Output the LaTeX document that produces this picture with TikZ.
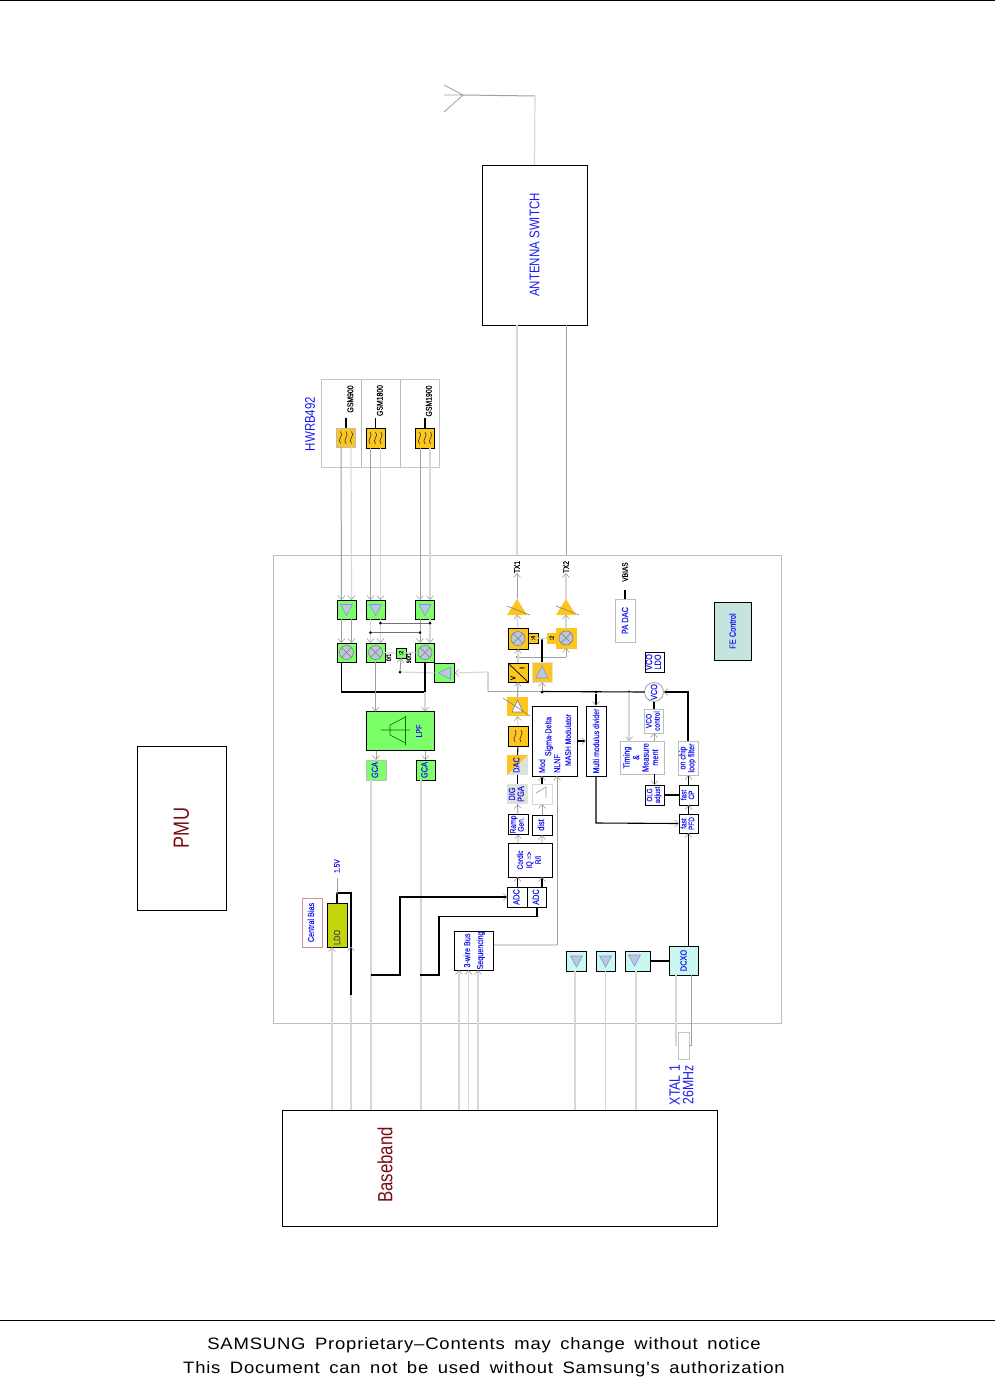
\documentclass[tikz,border=0pt]{standalone}
\usepackage{xcolor}
\usepackage{fontspec}
\setmainfont[FakeStretch=0.82,FakeBold=0.3]{Liberation Sans}
\newfontfamily\bigfont[FakeStretch=0.82]{Liberation Sans}
\newfontfamily\footfont[FakeStretch=1.12,LetterSpace=4.85,WordSpace=1.6]{Liberation Sans}
\usetikzlibrary{arrows.meta}
\definecolor{txtblue}{HTML}{1A1AF0}
\definecolor{darkred}{HTML}{7A0A14}
\definecolor{ambfill}{HTML}{FDC61E}
\definecolor{grnfill}{HTML}{7DFF6A}
\definecolor{cynfill}{HTML}{C9F8F0}
\definecolor{fefill}{HTML}{C5E4E0}
\definecolor{ldofill}{HTML}{C3D60A}
\definecolor{trifill}{HTML}{BCC8D6}
\definecolor{triline}{HTML}{8A90EE}
\definecolor{palefill}{HTML}{DDE3DA}
\definecolor{wirelight}{HTML}{D8D8D8}
\definecolor{wiremid}{HTML}{A0A0A0}
\newcommand{\rtxt}[1]{\rotatebox{90}{\begin{tabular}{@{}c@{}}#1\end{tabular}}}
\tikzset{
box/.style={draw=black,line width=1pt,inner sep=0pt,outer sep=0pt,text=txtblue,font=\fontsize{9}{8}\selectfont},
wh/.style 2 args={minimum width=#1pt,minimum height=#2pt},
pale/.style={box,draw=wiremid!70},
blk/.style={draw=black,line width=1.1pt},
lite/.style={draw=wirelight,line width=1.2pt},
mid/.style={draw=wiremid,line width=1pt},
barb/.style={-{Straight Barb[length=4pt,width=7pt,color=wiremid,line width=.6pt]}},
dot/.style={circle,fill=black,inner sep=0pt,outer sep=0pt,minimum size=3pt},
lbl/.style={inner sep=0pt,outer sep=0pt,text=black,font=\fontsize{8.4}{8}\selectfont},
big/.style={inner sep=0pt,text=txtblue,font=\bigfont\fontsize{14}{14}\selectfont},
tridown/.pic={\draw[fill=trifill,draw=triline,line width=.6pt](-6,-5)--(6,-5)--(0,6)--cycle;},
triup/.pic={\draw[fill=trifill,draw=triline,line width=.6pt](-6,6)--(6,6)--(0,-6)--cycle;},
trileft/.pic={\draw[fill=trifill,draw=triline,line width=.6pt](6,-6)--(6,6)--(-6,0)--cycle;},
mixer/.pic={\draw[fill=trifill,draw=gray,line width=.6pt](0,0)circle(7);
\draw[gray,line width=.5pt](-5,-5)--(5,5)(-5,5)--(5,-5);},
amp/.pic={\fill[ambfill](0,-8)--(10,8)--(-10,8)--cycle;
\draw[gray,line width=.6pt](-10,-1)--(13,8);},
wiggles/.pic={\foreach \k in {-5.5,0,5.5}{\draw[black!80,line width=.6pt](\k,-6)..controls(\k+4,-2)and(\k-4,2)..(\k,6);}},
wigglet/.pic={\foreach \k in {-3,3}{\draw[black!80,line width=.6pt](\k,-6)..controls(\k+4,-2)and(\k-4,2)..(\k,6);}},
}
\begin{document}
\begin{tikzpicture}[x=1pt,y=-1pt,line cap=butt]
\useasboundingbox(0,0)rectangle(995,1378);
% page rules and footer
\coordinate(rulea)at(0,0.5);\coordinate(ruleb)at(995,0.5);
\coordinate(rulec)at(0,1320);\coordinate(ruled)at(995,1320);
\draw[line width=1pt](rulea)--(ruleb);
\draw[line width=1pt](rulec)--(ruled);
\node[inner sep=0pt,font=\footfont\fontsize{16.5}{16}\selectfont](foota)at(484,1345){SAMSUNG Proprietary–Contents may change without notice};
\node[inner sep=0pt,font=\footfont\fontsize{16.5}{16}\selectfont](footb)at(484,1369){This Document can not be used without Samsung's authorization};
% outer blocks
\node[draw=wiremid!70,line width=1pt,wh={508}{468},inner sep=0pt](chip)at(527,789){};
\node[box,wh={105}{160}](antsw)at(534.5,245){\rotatebox{90}{\bigfont\fontsize{14}{14}\selectfont ANTENNA SWITCH}};
\node[box,wh={89}{164},text=darkred](pmu)at(181.5,828){\rotatebox{90}{\bigfont\fontsize{22}{18}\selectfont PMU}};
\node[box,wh={435}{116}](bb)at(499.5,1168){};
\node[inner sep=0pt,text=darkred,font=\bigfont\fontsize{20.5}{18}\selectfont](bbtxt)at(385,1165){\rotatebox{90}{Baseband}};
% antenna
\coordinate(antc)at(463,95);\coordinate(antd)at(444,85);\coordinate(ante)at(444,112);\coordinate(antf)at(444,95);
\coordinate(antg)at(535,96);
\draw[mid,line width=.8pt](antd)--(antc)--(ante)(antf)--(antc);
\draw[mid](antc)--(antg);
\draw[lite](antg)--(antsw.north);
% filter bank
\node[draw=wiremid!60,line width=1pt,wh={118}{88},inner sep=0pt](bank)at(380,423){};
\draw[wiremid!70,line width=.8pt](361,379)--(361,467)(400,379)--(400,467);
\node[big](hwrb)at(310,424){\rotatebox{90}{HWRB492}};
\node[pale,wh={19}{19},fill=ambfill](saa)at(346,437.5){};
\node[box,wh={19}{20},fill=ambfill](sab)at(375.5,438){};
\node[box,wh={19}{20},fill=ambfill](sac)at(425,438){};
\pic at(saa){wiggles};\pic at(sab){wiggles};\pic at(sac){wiggles};
\node[lbl](gsma)at(351.5,399){\rtxt{GSM900}};
\node[lbl](gsmb)at(381,400.5){\rtxt{GSM1800}};
\node[lbl](gsmc)at(430,401){\rtxt{GSM1900}};
\draw[blk](saa.north)--++(0,-10);
\draw[blk](sab.north)--++(0,-10);
\draw[blk](sac.north)--++(0,-10);
% rx chain
\node[box,wh={19}{19},fill=grnfill](lnaa)at(346.5,609.5){};
\node[box,wh={19}{19},fill=grnfill](lnab)at(375.5,609.5){};
\node[box,wh={19}{19},fill=grnfill](lnac)at(425,609.5){};
\pic at(lnaa){tridown};\pic at(lnab){tridown};\pic at(lnac){tridown};
\node[box,wh={19}{19},fill=grnfill](mixa)at(346.5,652.5){};
\node[box,wh={19}{19},fill=grnfill](mixb)at(375.5,652.5){};
\node[box,wh={19}{19},fill=grnfill](mixc)at(425,652.5){};
\pic at(mixa){mixer};\pic at(mixb){mixer};\pic at(mixc){mixer};
\foreach \s/\l in {saa/lnaa,sab/lnab,sac/lnac}{
\draw[mid,barb]([xshift=-5pt]\s.south)--([xshift=-5pt]\l.north);
\draw[lite,barb]([xshift=5pt]\s.south)--([xshift=5pt]\l.north);
}
\draw[mid,barb]([xshift=-5pt]lnaa.south)--([xshift=-5pt]mixa.north);
\draw[mid,barb]([xshift=5pt]lnaa.south)--([xshift=5pt]mixa.north);
\draw[lite,barb]([xshift=-5pt]lnab.south)--([xshift=-5pt]mixb.north);
\draw[lite,barb]([xshift=5pt]lnab.south)--([xshift=5pt]mixb.north);
\draw[mid,barb]([xshift=-5pt]lnac.south)--([xshift=-5pt]mixc.north);
\draw[lite,barb]([xshift=5pt]lnac.south)--([xshift=5pt]mixc.north);
\node[dot](xa)at(380.5,623){};\node[dot](xb)at(430,623){};
\node[dot](xc)at(370.5,632.5){};\node[dot](xd)at(420,632.5){};
\draw[wiremid!70!black,line width=.8pt](xa)--(xb);
\draw[wiremid!70!black,line width=.8pt](xc)--(xd);
\node[box,wh={10}{10},fill=grnfill,font=\fontsize{6}{6}\selectfont,text=black](divtwo)at(401,653){\rotatebox{90}{:2}};
\node[lbl,font=\fontsize{6.5}{6}\selectfont](lbzero)at(389.5,657.5){\rtxt{0/1}};
\node[lbl,font=\fontsize{6.5}{6}\selectfont](lbninety)at(409.5,658){\rtxt{90/1}};
\node[box,wh={20}{19},fill=grnfill](lobuf)at(444.5,673){};
\pic at(lobuf){trileft};
\node[dot](lodot)at(400,672){};
\draw[lite](lobuf.west)--(lodot);
\draw[mid,barb](lodot)--(divtwo.south);
\draw[lite](divtwo.west)--(mixb.east);
\draw[lite](divtwo.east)--(mixc.west);
\coordinate(loa)at(488,672);\coordinate(lob)at(488,691.5);\coordinate(loc)at(542,691.5);
\draw[lite,barb](loa)--(lobuf.east);
\draw[lite](loa)--(lob);
\draw[mid](lob)--(loc);
\node[box,wh={68}{39},fill=grnfill](lpf)at(400.5,731){};
\draw[green!45!black,line width=.6pt](381,730)--(410,730)(405.5,716)--(405.5,745)(390,725)--(405.5,717)(390,735)--(405.5,743)(390,725)--(390,735);
\node at(419,731)[inner sep=0pt,text=txtblue,font=\fontsize{8.5}{8}\selectfont](lpftxt){\rotatebox{90}{LPF}};
\coordinate(mxa)at(341.5,692);\coordinate(mxb)at(425,692);
\draw[blk]([xshift=-5pt]mixa.south)--(mxa)--(mxb)--(mixc.south);
\draw[mid,barb](mixb.south)--(mixb.south|-lpf.north);
\draw[lite,barb](mxb)--(mxb|-lpf.north);
\node[pale,wh={20}{20},fill=grnfill,text=txtblue](gcaa)at(376,770){\rtxt{GCA}};
\node[box,wh={19}{20},fill=grnfill](gcab)at(425.5,770){\rtxt{GCA}};
\draw[mid,barb](gcaa.north|-lpf.south)--(gcaa.north);
\draw[mid,barb](gcab.north|-lpf.south)--(gcab.north);
\coordinate(iqa)at(371,780);\coordinate(iqb)at(421,780);
\draw[lite](iqa)--(iqa|-bb.north);
\draw[lite](iqb)--(iqb|-bb.north);
% tx chain
\node[lbl,font=\fontsize{8}{8}\selectfont](txa)at(517,567){\rotatebox{90}{TX1}};
\node[lbl,font=\fontsize{8}{8}\selectfont](txb)at(566,567){\rotatebox{90}{TX2}};
\coordinate(txe)at(517,555);\coordinate(txf)at(566,555);
\draw[lite](antsw.south-|txa)--(txe);
\draw[mid](antsw.south-|txb)--(txf);
\node[inner sep=0pt,wh={20}{15}](paa)at(517,607){};
\node[inner sep=0pt,wh={20}{15}](pab)at(566,607){};
\pic at(paa){amp};\pic at(pab){amp};
\draw[mid,barb](paa.north)--(txa.south);
\draw[lite,barb](pab.north)--(txb.south);
\node[box,wh={20}{21},fill=ambfill](upa)at(518,638.5){};
\node[box,draw=ambfill,wh={20}{20},fill=ambfill](upb)at(566,638){};
\pic at(upa){mixer};\pic at(upb){mixer};
\node[box,wh={10}{10},fill=ambfill,text=black,font=\fontsize{6}{6}\selectfont](divfour)at(533,638){\rotatebox{90}{:4}};
\node[box,draw=ambfill,wh={9}{10},fill=ambfill,text=black,font=\fontsize{6}{6}\selectfont](divtwob)at(551.5,638){\rotatebox{90}{:2}};
\draw[lite,barb](upa.north)--(paa.south);
\draw[lite,barb](upb.north)--(pab.south);
\node[box,wh={20}{19},fill=ambfill](dac)at(518,672.5){};
\draw[line width=.7pt](508,663)--(528,682);
\node[lbl,font=\fontsize{7}{7}\selectfont](dacv)at(513,678){\rotatebox{90}{V}};
\node[lbl,font=\fontsize{7}{7}\selectfont](daci)at(522,668){\rotatebox{90}{I}};
\node[box,draw=wiremid!30,wh={20}{20},fill=ambfill](txbuf)at(542,672){};
\pic at(txbuf){triup};
\node[dot](txdot)at(517.5,657){};
\coordinate(txc)at(566,657);
\draw[lite,barb](dac.north)--(upa.south);
\draw[mid](txdot)--(txc);
\draw[mid,barb](txc)--(upb.south);
\coordinate(txd)at(542,639);
\draw[blk](txbuf.north)--(txd);
\draw[lite](divfour.east)--(txd)--(divtwob.west);
\node[dot](vcodot)at(542,692){};
\draw[mid,barb](vcodot)--(txbuf.south);
\node[inner sep=0pt,wh={20}{19}](pga)at(517.5,706.5){};
\fill[ambfill](507,697)rectangle(528,716);
\draw[draw=gray,fill=white,line width=.6pt](517.5,700)--(523,712)--(512,712)--cycle;
\draw[gray,line width=.6pt](503,698)--(530,716);
\draw[mid,barb](pga.north)--(dac.south);
\node[box,wh={20}{20},fill=ambfill](lpfb)at(518,736){};
\pic at(lpfb){wigglet};
\draw[lite,barb](lpfb.north)--(pga.south);
\node[inner sep=0pt,outer sep=0pt,wh={21}{20},text=txtblue,font=\fontsize{9}{8}\selectfont,path picture={
\fill[palefill](path picture bounding box.south west)rectangle(path picture bounding box.north east);
\fill[ambfill](path picture bounding box.south west)--(path picture bounding box.north west)--(path picture bounding box.north east)--cycle;}](dacb)at(517.5,765){\rtxt{DAC}};
\draw[blk](dacb.north)--(lpfb.south);
\node[inner sep=0pt,outer sep=0pt,wh={21}{20},fill=palefill,text=txtblue,font=\fontsize{9}{8.5}\selectfont](digpga)at(517.5,794){\rtxt{DIG\\PGA}};
\draw[blk](digpga.north)--(dacb.south);
\node[box,wh={20}{20},font=\fontsize{8.2}{7.5}\selectfont](ramp)at(518,824.5){\rtxt{Ramp\\Gen.}};
\draw[mid,barb](ramp.north)--(digpga.south);
\node[box,wh={20}{20}](dist)at(542,825){\rtxt{dist}};
\node[draw=wirelight,line width=.8pt,inner sep=0pt,outer sep=0pt,wh={20}{20}](ditblk)at(542,794){};
\coordinate(dita)at(536,793);\coordinate(ditb)at(546,787);\coordinate(ditc)at(546,798);
\draw[wiremid,line width=.7pt](dita)--(ditb)--(ditc);
\draw[mid,barb](dist.north)--(ditblk.south);
\node[box,wh={45}{70}](sigd)at(554.5,741){};
\node[inner sep=0pt,text=txtblue,font=\fontsize{8.7}{8}\selectfont](sigmod)at(542,766){\rotatebox{90}{Mod}};
\node[inner sep=0pt,text=txtblue,font=\fontsize{8.7}{8}\selectfont](signl)at(549,736.5){\rotatebox{90}{Sigma-Delta}};
\node[inner sep=0pt,text=txtblue,font=\fontsize{8.7}{8}\selectfont](signf)at(557,763.5){\rotatebox{90}{NLNF}};
\node[inner sep=0pt,text=txtblue,font=\fontsize{8.3}{8}\selectfont](sigma)at(568,740){\rotatebox{90}{MASH Modulator}};
\draw[blk,barb](ditblk.north)--(ditblk.north|-sigd.south);
\node[box,wh={20}{70},font=\fontsize{8.4}{8}\selectfont](mmd)at(596,741){\rotatebox{90}{Multi modulus divider}};
\draw[blk,barb](sigd.east)--(mmd.west);
\node[dot](mmdot)at(596,692){};
\draw[blk,barb](mmdot)--(mmd.north);
\node[box,wh={44}{34},font=\fontsize{8}{9}\selectfont](cordic)at(530,860){\rtxt{Cordic\\IQ =>\\R/I}};
\draw[lite,barb](ramp.south|-cordic.north)--(ramp.south);
\draw[lite,barb](dist.south|-cordic.north)--(dist.south);
\node[box,wh={19.5}{20}](adca)at(517.5,897){\rtxt{ADC}};
\node[box,wh={19.5}{20}](adcb)at(537,897){\rtxt{ADC}};
\draw[blk,barb](adca.north)--(adca.north|-cordic.south);
\coordinate(adcc)at(542,887);
\draw[blk,barb](adcc)--(adcc|-cordic.south);
\coordinate(iaa)at(371,975);\coordinate(iab)at(400,975);\coordinate(iac)at(400,897);
\draw[blk,barb](iaa)--(iab)--(iac)--(adca.west);
\coordinate(iba)at(420,975);\coordinate(ibb)at(439,975);\coordinate(ibc)at(439,916.5);\coordinate(ibd)at(537,916.5);
\draw[blk](iba)--(ibb)--(ibc)--(ibd)--(adcb.south);
% 3 wire bus
\node[box,wh={39.5}{39},font=\fontsize{8.8}{13}\selectfont](tbus)at(474,950.5){\rtxt{3-wire Bus\\Sequencing}};
\coordinate(nla)at(557,945);\coordinate(nlb)at(557,776);
\draw[lite](tbus.east|-nla)--(nla);
\draw[mid,barb](nla)--(nlb);
\coordinate(bsa)at(459,970);\coordinate(bsb)at(468.5,970);\coordinate(bsc)at(478,970);
\draw[lite,barb](bsa|-bb.north)--(bsa);
\draw[lite,barb](bsb|-bb.north)--(bsb);
\draw[lite,barb](bsc|-bb.north)--(bsc);
% ldo
\node[draw=red!45!gray!60,line width=1pt,inner sep=0pt,outer sep=0pt,wh={20}{49},text=txtblue,font=\fontsize{8.8}{8}\selectfont](cbias)at(312,922.5){\rtxt{Central Bias}};
\node[box,wh={20}{44},fill=ldofill,text=gray!60!black](ldo)at(337,925){\rotatebox{90}{\hspace*{-20pt}LDO}};
\node[inner sep=0pt,text=txtblue,font=\fontsize{8}{8}\selectfont](vona)at(337,866){\rotatebox{90}{1.5V}};
\node[dot,minimum size=2pt](lddot)at(337,893){};
\coordinate(ldb)at(351,893);\coordinate(ldc)at(351,995);\coordinate(lde)at(337,878);
\draw[mid](lde)--(lddot);
\draw[blk](lddot)--(ldo.north);
\draw[blk](lddot)--(ldb)--(ldc);
\draw[lite](ldc)--(ldc|-bb.north);
\node[inner sep=0pt,minimum size=0pt](ldbarb)at(351,947){};
\draw[wiremid,line width=.6pt](347.5,951)--(ldbarb)--(354.5,951);
\coordinate(lda)at(332,947);
\draw[lite,barb](lda|-bb.north)--(lda);
% pll
\node[pale,wh={20}{43}](padac)at(625,620.5){\rotatebox{90}{PA DAC}};
\node[lbl,font=\fontsize{8}{8}\selectfont](vbias)at(625,572){\rotatebox{90}{VBIAS}};
\draw[blk](padac.north)--++(0,-9);
\node[box,wh={37}{58},fill=fefill](fectl)at(732.5,631){\rotatebox{90}{FE Control}};
\node[box,wh={19}{20}](vldo)at(654.5,662){\rtxt{VCO\\LDO}};
\node[draw=wiremid,line width=.8pt,circle,inner sep=0pt,outer sep=0pt,minimum size=19pt,text=txtblue,font=\fontsize{9}{8}\selectfont](vco)at(654,692){\rotatebox{90}{VCO}};
\node[pale,wh={19}{24},font=\fontsize{8}{8}\selectfont](vctl)at(654,721){\rtxt{VCO\\control}};
\node[pale,wh={44}{33},font=\fontsize{9}{9.5}\selectfont](tim)at(642,757.5){\rtxt{Timing\\\&\\Measure\\ment}};
\node[box,wh={19}{20},font=\fontsize{7.6}{7.5}\selectfont](olg)at(654.5,795){\rtxt{OLG\\adjust}};
\node[pale,wh={20}{34},font=\fontsize{8.7}{8.5}\selectfont](lpfc)at(688,758){\rtxt{on chip\\loop filter}};
\node[box,wh={19}{20},font=\fontsize{7.9}{7.5}\selectfont](fcp)at(688.5,795){\rtxt{fast\\CP}};
\node[box,wh={19}{19},font=\fontsize{7.9}{7.5}\selectfont](fpfd)at(688.5,823.5){\rtxt{fast\\PFD}};
\draw[blk](loc)--(vco.west);
\node[dot,minimum size=2pt](tmdot)at(629,691.5){};
\draw[lite,barb](tmdot)--(tmdot|-tim.north);
\draw[blk](vctl.north)--(vco.south);
\draw[mid,barb](vctl.south|-tim.north)--(vctl.south);
\draw[blk,barb](olg.north|-tim.south)--(olg.north);
\draw[blk](olg.east)--(fcp.west);
\draw[blk,barb](fpfd.north)--(fcp.south);
\draw[blk,barb](fcp.north)--(lpfc.south-|fcp.north);
\coordinate(lpa)at(688,692);
\draw[blk,barb](lpfc.north)--(lpa)--(vco.east);
\coordinate(mda)at(596,823);
\draw[blk,barb](mmd.south)--(mda)--(fpfd.west);
% dcxo and buffers
\node[box,wh={20}{20},fill=cynfill](bufa)at(576.5,961){};
\node[box,wh={19}{20},fill=cynfill](bufb)at(605.5,961){};
\node[box,wh={25}{20},fill=cynfill](bufc)at(637.5,961){};
\pic at(bufa){tridown};\pic at(bufb){tridown};\pic at(634.5,960){tridown};
\node[box,wh={29}{29},fill=cynfill](dcxo)at(683.5,960.5){\rotatebox{90}{DCXO}};
\draw[blk](bufc.east)--(bufc.east-|dcxo.west);
\coordinate(dca)at(688.5,946);
\draw[blk,barb](dca)--(fpfd.south);
\draw[lite,line width=1.5pt]([xshift=-1.5pt]bufa.south)--([xshift=-1.5pt]bufa.south|-bb.north);
\draw[lite](bufb.south)--(bufb.south|-bb.north);
\draw[lite]([xshift=-1.5pt]bufc.south)--([xshift=-1.5pt]bufc.south|-bb.north);
\node[draw=wiremid!60,line width=1pt,inner sep=0pt,outer sep=0pt,wh={11}{27}](xtal)at(683.5,1045.5){};
\coordinate(xta)at(676,975);\coordinate(xtb)at(676,1045.5);\coordinate(xtc)at(691,975);\coordinate(xtd)at(691,1045.5);
\draw[lite](xta)--(xtb)--(xtal.west);
\draw[mid](xtc)--(xtd)--(xtal.east);
\node[inner sep=0pt,text=txtblue,font=\bigfont\fontsize{15}{10}\selectfont](xtxt)at(683,1085){\rtxt{XTAL 1\\26MHz}};
\end{tikzpicture}
\end{document}
